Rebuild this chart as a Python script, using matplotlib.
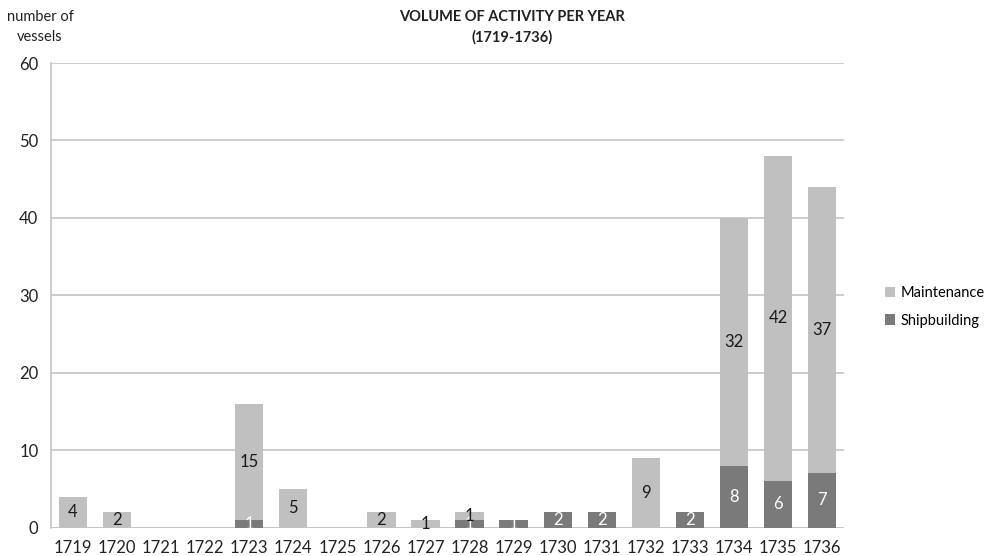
import matplotlib
matplotlib.use("Agg")
import matplotlib.pyplot as plt
import numpy as np

years = ["1719", "1720", "1721", "1722", "1723", "1724", "1725", "1726", "1727",
         "1728", "1729", "1730", "1731", "1732", "1733", "1734", "1735", "1736"]
shipbuilding = [0, 0, 0, 0, 1, 0, 0, 0, 0, 1, 1, 2, 2, 0, 2, 8, 6, 7]
maintenance = [4, 2, 0, 0, 15, 5, 0, 2, 1, 1, 0, 0, 0, 9, 0, 32, 42, 37]

plt.rcParams['font.family'] = ['Lato', 'DejaVu Sans']

LIGHT = '#c0c0c0'
DARK = '#7a7a7a'
GRID = '#c4c4c4'


def seg_labels(vals):
    """hide labels for empty segments"""
    return [str(v) if v > 0 else '' for v in vals]


def main():
    fig = plt.figure(figsize=(9.85, 5.56), dpi=100)
    ax = fig.add_axes([51 / 985, 1 - 527.5 / 556, (844 - 51) / 985, (527.5 - 63) / 556])

    x = np.arange(len(years))
    width = 0.64
    b1 = ax.bar(x, shipbuilding, width, color=DARK, label='Shipbuilding', zorder=3)
    b2 = ax.bar(x, maintenance, width, bottom=shipbuilding, color=LIGHT,
                label='Maintenance', zorder=3)

    ax.bar_label(b1, labels=seg_labels(shipbuilding), label_type='center',
                 color='white', fontsize=12, zorder=4)
    ax.bar_label(b2, labels=seg_labels(maintenance), label_type='center',
                 color='#1a1a1a', fontsize=12, zorder=4)

    ax.set_xlim(-0.5, len(years) - 0.5)
    ax.set_ylim(0, 60)
    ax.set_yticks(np.arange(0, 61, 10))
    ax.set_xticks(x)
    ax.set_xticklabels(years)
    ax.tick_params(axis='both', length=0, labelsize=12, colors='#222222')
    ax.tick_params(axis='x', pad=9)
    ax.tick_params(axis='y', pad=9)
    ax.yaxis.grid(True, color=GRID, linewidth=1.2, zorder=0)
    for side in ['top', 'right', 'bottom']:
        ax.spines[side].set_visible(False)
    ax.spines['left'].set_color(GRID)
    ax.spines['left'].set_linewidth(1.2)
    ax.axhline(0, color=GRID, linewidth=1.2, zorder=2)

    handles, labels = ax.get_legend_handles_labels()
    fig.legend(handles[::-1], labels[::-1], loc='center left',
               bbox_to_anchor=(885 / 985, 1 - 307 / 556), frameon=False,
               borderaxespad=0, borderpad=0,
               fontsize=10.5, handlelength=0.7, handleheight=0.7,
               handletextpad=0.35, labelspacing=0.9)

    fig.text(512 / 985, 1 - 17 / 556, 'VOLUME OF ACTIVITY PER YEAR',
             ha='center', va='center', fontsize=10.5, fontweight='bold', color='#222222')
    fig.text(512 / 985, 1 - 37 / 556, '(1719-1736)',
             ha='center', va='center', fontsize=10.5, fontweight='bold', color='#222222')
    fig.text(40 / 985, 1 - 17 / 556, 'number of', ha='center', va='center',
             fontsize=10.5, color='#222222')
    fig.text(40 / 985, 1 - 37 / 556, 'vessels', ha='center', va='center',
             fontsize=10.5, color='#222222')

    fig.savefig('out.png', dpi=100)


if __name__ == "__main__":
    main()
